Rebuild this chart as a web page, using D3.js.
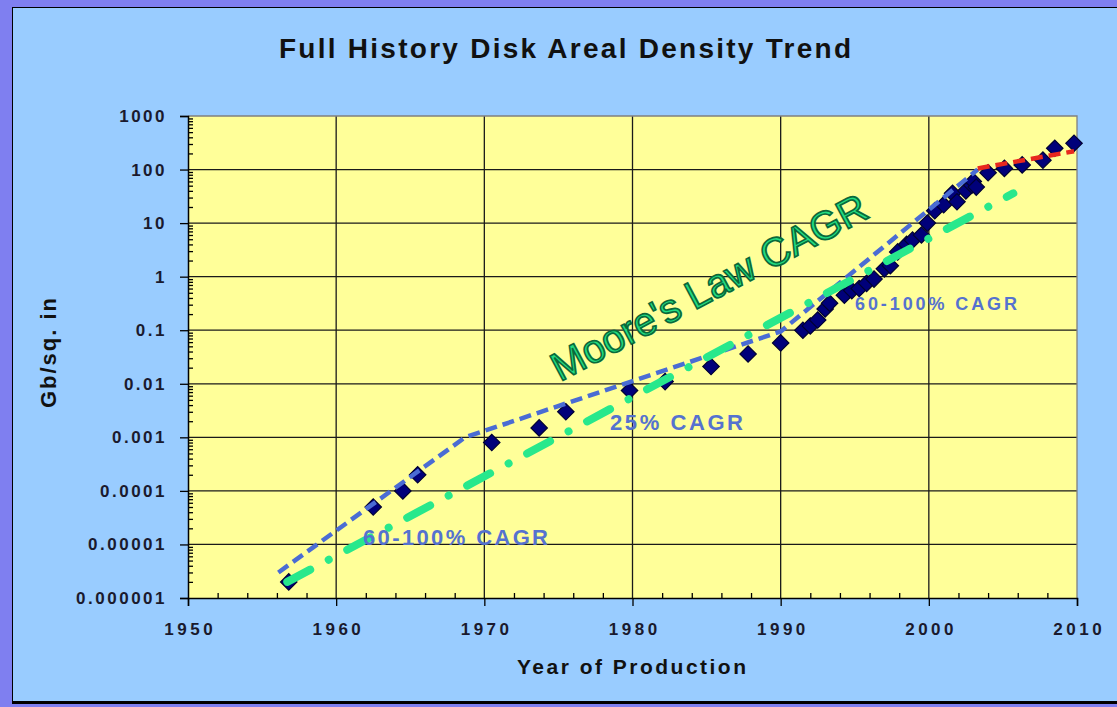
<!DOCTYPE html>
<html>
<head>
<meta charset="utf-8">
<script src="https://cdn.jsdelivr.net/npm/d3@7"></script>
<style>
  html, body { margin: 0; padding: 0; background: #7f7ff0; }
  svg { display: block; }
</style>
</head>
<body>
<svg id="chart" width="1117" height="707"></svg>
<script>
// Disk drive areal density by year of production (Gb per square inch)
const pointYears = [
  1956.8, 1962.5, 1964.5, 1965.5, 1970.5, 1973.7, 1975.5, 1979.8, 1982.2, 1985.3,
  1987.8, 1990.0, 1991.5, 1992.0, 1992.5, 1993.0, 1993.3, 1994.3, 1994.8, 1995.3,
  1995.8, 1996.3, 1997.0, 1997.4, 1997.9, 1998.5, 1998.9, 1999.5, 1999.9, 2000.4,
  2001.0, 2001.6, 2001.9, 2002.5, 2002.9, 2003.0, 2003.2, 2004.0, 2005.1, 2006.3,
  2007.7, 2008.5, 2009.8
];
const pointDensity = [
  0.000002, 0.00005, 0.0001, 0.0002, 0.0008, 0.0015, 0.003, 0.0075, 0.011, 0.021,
  0.036, 0.058, 0.1, 0.12, 0.155, 0.25, 0.32, 0.45, 0.55, 0.6,
  0.75, 0.9, 1.4, 1.6, 2.9, 4, 4.8, 6, 10, 17,
  22, 36, 25, 40, 51, 60, 47, 87, 105, 122,
  150, 250, 310
];

// Trend lines
const growthTrendYears  = [1956.1, 1968.7, 1990.0, 2003.3];
const growthTrendValues = [0.000003, 0.001, 0.095, 100];
const recentTrendYears  = [2003.3, 2009.8];
const recentTrendValues = [105, 220];
const mooreTrendYears   = [1956.7, 2005.7];
const mooreTrendValues  = [0.000002, 36];

// Axis ticks
const xTickValues = [1950, 1960, 1970, 1980, 1990, 2000, 2010];
const xTickLabels = ["1950", "1960", "1970", "1980", "1990", "2000", "2010"];
const yTickValues = [0.000001, 0.00001, 0.0001, 0.001, 0.01, 0.1, 1, 10, 100, 1000];
const yTickLabels = ["0.000001", "0.00001", "0.0001", "0.001", "0.01", "0.1", "1", "10", "100", "1000"];

const FONT = "'Liberation Sans', Arial, Helvetica, sans-serif";
const svg = d3.select("#chart");

const plot = { left: 188, right: 1077, top: 116, bottom: 598 };
const x = d3.scaleLinear().domain([1950, 2010]).range([plot.left, plot.right]);
const y = d3.scaleLog().domain([1e-6, 1000]).range([plot.bottom, plot.top]);

// Chart frame
svg.append("rect").attr("width", 1117).attr("height", 707).attr("fill", "#7f7ff0");
svg.append("rect").attr("x", 12).attr("y", 7).attr("width", 1120).attr("height", 697).attr("fill", "#000");
svg.append("rect").attr("x", 13).attr("y", 8).attr("width", 1120).attr("height", 693).attr("fill", "#99ccff");

// Plot background
svg.append("rect")
  .attr("x", plot.left).attr("y", plot.top)
  .attr("width", plot.right - plot.left).attr("height", plot.bottom - plot.top)
  .attr("fill", "#ffff99");

// Grid lines
const grid = svg.append("g").attr("stroke", "#1a1a1a").attr("stroke-width", 1.3);
grid.selectAll("line.h").data(yTickValues.slice(1, -1)).join("line")
  .attr("x1", plot.left).attr("x2", plot.right)
  .attr("y1", d => y(d)).attr("y2", d => y(d));
grid.selectAll("line.v").data(xTickValues.slice(1, -1)).join("line")
  .attr("y1", plot.top).attr("y2", plot.bottom)
  .attr("x1", d => x(d)).attr("x2", d => x(d));

// Plot border (top and right)
svg.append("path")
  .attr("d", `M${plot.left},${plot.top}H${plot.right}V${plot.bottom}`)
  .attr("fill", "none").attr("stroke", "#808080").attr("stroke-width", 1.3);

// Minor ticks
const yMinor = [];
for (let e = -6; e < 3; e++) for (let k = 2; k <= 9; k++) yMinor.push(k * Math.pow(10, e));
const xMinor = d3.range(1952, 2010, 2).filter(v => v % 10 !== 0);

const yMinorAxis = svg.append("g").attr("transform", `translate(${plot.left},0)`)
  .call(d3.axisRight(y).tickValues(yMinor).tickSize(5).tickFormat(""));
yMinorAxis.select(".domain").remove();
const xMinorAxis = svg.append("g").attr("transform", `translate(0,${plot.bottom})`)
  .call(d3.axisTop(x).tickValues(xMinor).tickSize(5).tickFormat(""));
xMinorAxis.select(".domain").remove();

// Major axes
const yAxis = svg.append("g").attr("transform", `translate(${plot.left},0)`)
  .call(d3.axisLeft(y).tickValues(yTickValues).tickSize(8).tickPadding(13)
    .tickFormat((d, i) => yTickLabels[i]));
const xAxis = svg.append("g").attr("transform", `translate(0,${plot.bottom})`)
  .call(d3.axisBottom(x).tickValues(xTickValues).tickSize(8).tickPadding(17)
    .tickFormat((d, i) => xTickLabels[i]));

[yAxis, xAxis, yMinorAxis, xMinorAxis].forEach(g => {
  g.selectAll(".domain").attr("stroke", "#000").attr("stroke-width", 1.5);
  g.selectAll(".tick line").attr("stroke", "#000").attr("stroke-width", 1.3);
});
yAxis.selectAll("text")
  .attr("font-family", FONT).attr("font-weight", "bold").attr("font-size", 17)
  .attr("letter-spacing", 2.5).attr("fill", "#1a1a2e");
xAxis.selectAll("text")
  .attr("font-family", FONT).attr("font-weight", "bold").attr("font-size", 17)
  .attr("letter-spacing", 3.5).attr("dx", 1.75).attr("fill", "#1a1a2e");

// Data markers
const points = pointYears.map((yr, i) => [yr, pointDensity[i]]);
const diamond = d3.symbol().type(d3.symbolSquare).size(135);
svg.append("g").selectAll("path").data(points).join("path")
  .attr("d", diamond)
  .attr("transform", d => `translate(${x(d[0])},${y(d[1])}) rotate(45)`)
  .attr("fill", "#00007a").attr("stroke", "#000033").attr("stroke-width", 1.2);

// Trend lines
const line = d3.line().x(d => x(d[0])).y(d => y(d[1]));
const zip = (a, b) => a.map((v, i) => [v, b[i]]);

svg.append("path").datum(zip(growthTrendYears, growthTrendValues))
  .attr("d", line).attr("fill", "none")
  .attr("stroke", "#4a6cd4").attr("stroke-width", 4.5).attr("stroke-dasharray", "12 6");
svg.append("path").datum(zip(recentTrendYears, recentTrendValues))
  .attr("d", line).attr("fill", "none")
  .attr("stroke", "#e8281e").attr("stroke-width", 4.5).attr("stroke-dasharray", "12 6");
svg.append("path").datum(zip(mooreTrendYears, mooreTrendValues))
  .attr("d", line).attr("fill", "none")
  .attr("stroke", "#28e88c").attr("stroke-width", 8).attr("stroke-linecap", "round")
  .attr("stroke-dasharray", "26 21 0.01 21");

// Annotations
svg.append("text")
  .attr("transform", "translate(560,382) rotate(-28)")
  .attr("font-family", FONT).attr("font-size", 40)
  .attr("fill", "#22dd80").attr("stroke", "#0a6a3a").attr("stroke-width", 1.7)
  .text("Moore's Law CAGR");

const note = (txt, x0, base, size, len) => svg.append("text")
  .attr("x", x0).attr("y", base)
  .attr("font-family", FONT).attr("font-weight", "bold").attr("font-size", size)
  .attr("fill", "#5572cf")
  .attr("textLength", len).attr("lengthAdjust", "spacing")
  .text(txt);
note("60-100% CAGR", 363, 545, 22, 185);
note("25% CAGR", 610, 430, 22, 133);
note("60-100% CAGR", 855, 310, 18, 162);

// Titles
svg.append("text")
  .attr("x", 279).attr("y", 58)
  .attr("font-family", FONT).attr("font-weight", "bold").attr("font-size", 28)
  .attr("fill", "#111").attr("textLength", 572).attr("lengthAdjust", "spacing")
  .text("Full History Disk Areal Density Trend");

svg.append("text")
  .attr("x", 517).attr("y", 674)
  .attr("font-family", FONT).attr("font-weight", "bold").attr("font-size", 21)
  .attr("fill", "#111").attr("textLength", 229).attr("lengthAdjust", "spacing")
  .text("Year of Production");

svg.append("text")
  .attr("transform", "translate(56,408) rotate(-90)")
  .attr("font-family", FONT).attr("font-weight", "bold").attr("font-size", 22)
  .attr("fill", "#111").attr("textLength", 110).attr("lengthAdjust", "spacing")
  .text("Gb/sq. in");
</script>
</body>
</html>
